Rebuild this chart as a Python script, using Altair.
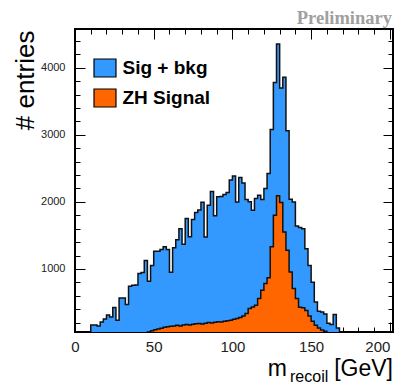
import altair as alt
import pandas as pd

# ---- data (2 GeV bins starting at 0) ----
bin_width = 2
x_max = 202

sig_bkg = [0, 0, 0, 0, 0, 164, 164, 150, 209, 254,
           314, 284, 424, 234, 567, 567, 469, 742, 757, 761,
           931, 946, 1125, 817, 1050, 1265, 1265, 1290, 1330, 1290,
           950, 1315, 1435, 1600, 1370, 1752, 1480, 1737, 1840, 1880,
           1995, 1475, 1951, 2155, 1795, 2076, 2080, 2110, 2140, 2325,
           2385, 2000, 2362, 2280, 2036, 2001, 1876, 2051, 2100, 2036,
           2200, 2425, 3080, 3780, 4355, 3700, 3858, 3060, 2040, 2000,
           1640, 1620, 1600, 1300, 1050, 800, 508, 370, 358, 330,
           190, 170, 320, 120, 15, 0, 0, 0, 0, 0,
           0, 0, 0, 0, 0, 0, 0, 0, 0, 0, 0]

zh_signal = [0] * 21 + [10, 40, 60, 80, 95, 105, 115, 130, 140, 145,
                        150, 160, 150, 165, 172, 165, 175, 182, 185, 180,
                        192, 200, 195, 205, 212, 210, 220, 228, 236, 250,
                        262, 275, 300, 334, 409, 433, 458, 558, 682, 782,
                        870, 1330, 1800, 2090, 1990, 1550, 1280, 956, 708, 558,
                        430, 420, 380, 300, 220, 160, 120, 90, 70, 40, 15]
zh_signal = zh_signal + [0] * (len(sig_bkg) - len(zh_signal))

series_names = ["Sig + bkg", "ZH Signal"]
series_colors = ["#3399ff", "#ff6600"]

x_major = [0, 50, 100, 150, 200]
x_minor = list(range(0, 201, 10))
y_major = [1000, 2000, 3000, 4000]
y_minor = list(range(200, 4401, 200))
y_domain = [60, 4578]

rows = []
for name, vals in zip(series_names, [sig_bkg, zh_signal]):
    for i, v in enumerate(vals):
        rows.append({"series": name, "x": i * bin_width, "v": v})
    rows.append({"series": name, "x": x_max, "v": 0})
df = pd.DataFrame(rows)

W, H = 318, 303
FONT = "Liberation Sans"

xs = alt.Scale(domain=[0, x_max], nice=False, zero=False)
ys = alt.Scale(domain=y_domain, nice=False, zero=False)


def ax(orient, values, major, show_labels=False, **kw):
    return alt.Axis(orient=orient, values=values, tickSize=10 if major else 5,
                    offset=-10 if major else -5, labels=show_labels, domain=False,
                    grid=False, tickColor="black", tickWidth=1, **kw)


legend = alt.Legend(orient="none", legendX=20, legendY=29, title=None,
                    symbolType="M-1.222,-1H1.222V1H-1.222Z", symbolSize=324,
                    symbolStrokeColor="black", symbolStrokeWidth=1.2,
                    symbolOpacity=1, labelFont=FONT, labelFontWeight="bold",
                    labelFontSize=19, labelColor="black", labelOffset=7.5,
                    rowPadding=6, padding=0)
color = alt.Color("series:N", scale=alt.Scale(domain=series_names, range=series_colors),
                  legend=legend)

base = alt.Chart(df)

blue_area = base.transform_filter(alt.datum.series == series_names[0]).mark_area(
    interpolate="step-after", opacity=1, clip=True).encode(
    x=alt.X("x:Q", scale=xs,
            axis=ax("bottom", x_major, True, show_labels=True, labelFont=FONT,
                    labelFontSize=15, labelColor="#222", labelPadding=7,
                    labelAlign={"condition": {"test": "datum.value == 200",
                                              "value": "right"},
                                "value": "center"},
                    format="d", title=None)),
    y=alt.Y("v:Q", scale=ys,
            axis=ax("left", y_major, True, show_labels=True, labelFont=FONT,
                    labelFontSize=11, labelColor="#222", labelPadding=10,
                    format="d", title="# entries",
                    titleFont=FONT, titleFontSize=26, titleFontWeight="normal",
                    titleColor="black", titleAngle=-90, titleAlign="right",
                    titleBaseline="alphabetic", titleX=-52, titleY=1)),
    y2=alt.datum(0),
    color=color,
)

blue_line = base.transform_filter(alt.datum.series == series_names[0]).mark_line(
    interpolate="step-after", color="#111", strokeWidth=1.5, clip=True).encode(
    x=alt.X("x:Q", scale=xs, axis=ax("bottom", x_minor, False, title=None)),
    y=alt.Y("v:Q", scale=ys, axis=ax("left", y_minor, False, title=None)),
)

orange_area = base.transform_filter(alt.datum.series == series_names[1]).mark_area(
    interpolate="step-after", opacity=1, clip=True).encode(
    x=alt.X("x:Q", scale=xs, axis=ax("top", x_major, True, title=None)),
    y=alt.Y("v:Q", scale=ys, axis=ax("right", y_major, True, title=None)),
    y2=alt.datum(0),
    color=color,
)

orange_line = base.transform_filter(alt.datum.series == series_names[1]).mark_line(
    interpolate="step-after", color="#111", strokeWidth=1.5, clip=True).encode(
    x=alt.X("x:Q", scale=xs, axis=ax("top", x_minor, False, title=None)),
    y=alt.Y("v:Q", scale=ys, axis=ax("right", y_minor, False, title=None)),
)

texts = pd.DataFrame({"t": ["m", "recoil", "[GeV]", "Preliminary"]})


def txt(label, x, y, size, align, font=FONT, weight="normal", col="black"):
    return alt.Chart(texts).transform_filter(alt.datum.t == label).mark_text(
        font=font, fontSize=size, fontWeight=weight, color=col, align=align,
        baseline="alphabetic").encode(x=alt.value(x), y=alt.value(y), text="t:N")


t_m = txt("m", 212, 347, 23, "right")
t_sub = txt("recoil", 215, 353, 16, "left")
t_gev = txt("[GeV]", W, 347, 23, "right")
t_pre = txt("Preliminary", W - 1, -5, 18.5, "right", font="Liberation Serif",
            weight="bold", col="#a0a0a0")

chart = alt.layer(blue_area, blue_line, orange_area, orange_line,
                  t_m, t_sub, t_gev, t_pre).resolve_axis(
    x="independent", y="independent").properties(
    width=W, height=H,
    autosize=alt.AutoSizeParams(type="none"),
    padding={"left": 67, "top": 21, "right": 6, "bottom": 54},
).configure_view(stroke="black", strokeWidth=2)

chart.save("out.html", embed_options={"renderer": "svg", "actions": False})
